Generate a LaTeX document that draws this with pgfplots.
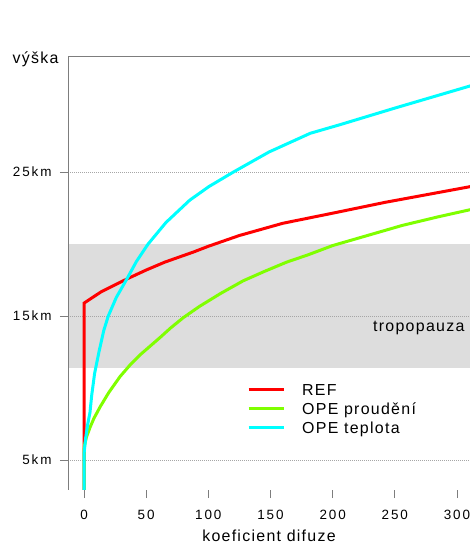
\documentclass[border=0pt]{standalone}
\usepackage{fontspec}
\setmainfont{Liberation Sans}
\newfontfamily\labfont[LetterSpace=8]{Liberation Sans}
\newfontfamily\tickfont[LetterSpace=14]{Liberation Sans}
\usepackage{pgfplots}
\pgfplotsset{compat=1.18}

\definecolor{axgray}{RGB}{125,125,125}
\definecolor{bandgray}{RGB}{221,221,221}
\definecolor{refred}{RGB}{255,0,0}
\definecolor{flowgreen}{RGB}{127,255,0}
\definecolor{tempcyan}{RGB}{0,255,255}

\newcommand{\labsize}{\labfont\fontsize{16}{19}\selectfont}
\newcommand{\ticksize}{\tickfont\fontsize{13.5}{16}\selectfont}

\begin{document}
\begin{tikzpicture}
\begin{axis}[
  set layers,
  at={(0,0)}, anchor=south west,
  scale only axis,
  width=402bp, height=433bp,
  xmin=-12.87, xmax=310.46,
  ymin=2.92, ymax=33.0,
  axis line style={draw=none},
  xtick={0,50,100,150,200,250,300},
  ytick={5,15,25},
  yticklabels={5km,15km,25km},
  xtick pos=bottom, ytick pos=left,
  tick align=outside,
  major tick length=8bp,
  tick style={axgray, line width=0.8bp},
  /pgf/number format/assume math mode=true,
  ticklabel style={font=\ticksize, text=black},
  yticklabel style={anchor=east, inner sep=0pt, xshift=-8.3bp},
  xticklabel style={anchor=north, inner sep=0pt, yshift=-11.5bp},
  ymajorgrids,
  major grid style={gray!70, line width=0.6bp, dash pattern=on 1bp off 1bp},
  xlabel={koeficient difuze},
  xlabel style={font=\labsize, at={(axis description cs:0.5,0)}, anchor=center, yshift=-46bp},
  ylabel={výška},
  ylabel style={font=\labsize, rotate=-90, at={(axis description cs:0,1)}, anchor=base east, xshift=-6bp, yshift=-6.5bp},
  legend style={draw=none, fill=none, font=\labsize,
    at={(axis cs:128.7,10.44)}, anchor=north west,
    nodes={inner sep=0pt, text height=12bp, text depth=4bp},
    row sep=2.6bp,
    /tikz/every odd column/.style={column sep=17bp}},
  legend cell align=left,
  legend image code/.code={\draw[#1, line width=3bp] (0bp,2bp) -- (35bp,2bp);},
]
% tropopause band, kept underneath the grid lines
\begin{pgfonlayer}{axis background}
  \fill[bandgray] (axis cs:-12.87,11.4) rectangle (axis cs:310.46,20);
\end{pgfonlayer}
% frame: left, top and bottom edges only
\draw[axgray, line width=1bp] (rel axis cs:1,1) -- (rel axis cs:0,1) -- (rel axis cs:0,0) -- (rel axis cs:1,0);

\addplot[refred, line width=3bp] coordinates {
  (0,2.92) (0,5.7) (0,15.9) (14,16.7) (35,17.6) (50,18.2) (65,18.75)
  (88,19.45) (100,19.85) (125,20.6) (160,21.45) (200,22.15) (242,22.9)
  (311,24.0)
};
\addlegendentry{REF}

\addplot[flowgreen, line width=3bp] coordinates {
  (0,2.92) (0,5.7) (0.5,6.05) (2,6.6) (5,7.3) (8,7.9) (13,8.7) (20,9.7)
  (29,10.8) (37,11.6) (45,12.3) (53,12.9) (61,13.5) (70,14.2) (80,14.9)
  (93,15.68) (110,16.58) (128,17.45) (145,18.1) (163,18.75) (180,19.25)
  (200,19.9) (230,20.65) (256,21.3) (285,21.9) (311,22.4)
};
\addlegendentry{OPE proudění}

\addplot[tempcyan, line width=3bp] coordinates {
  (0,2.92) (0,5.4) (1.3,6.5) (3.0,7.5) (4.8,8.3) (6.2,9.5) (8.5,11.0)
  (12.0,12.5) (15.9,14.0) (19.5,15.0) (26,16.3) (34.6,17.6) (42.2,18.8)
  (51.5,20.0) (65.9,21.5) (85,23.05) (100.5,24.0) (120,25.0) (148.8,26.4)
  (182,27.7) (206,28.3) (250,29.45) (311,31.0)
};
\addlegendentry{OPE teplota}

\node[anchor=east, font=\labsize] at (axis cs:308.8,14.16) {tropopauza};
\end{axis}
\pgfresetboundingbox
\path[use as bounding box] (-68bp,-54bp) rectangle (402bp,490bp);
\end{tikzpicture}
\end{document}
